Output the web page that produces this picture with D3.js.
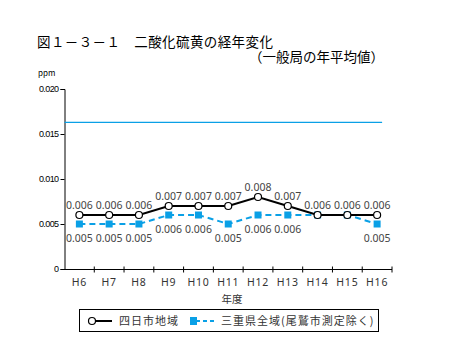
<!DOCTYPE html>
<html><head><meta charset="utf-8">
<script src="https://cdn.jsdelivr.net/npm/d3@7"></script>
<style>body{margin:0;background:#fff;}svg{display:block;font-family:"Noto Sans CJK JP","Noto Sans",sans-serif;}</style>
</head><body><svg id="c" width="465" height="353"></svg>
<script>
const categories = ["H6","H7","H8","H9","H10","H11","H12","H13","H14","H15","H16"];
const yokkaichi = [0.006,0.006,0.006,0.007,0.007,0.007,0.008,0.007,0.006,0.006,0.006];
const mie = [0.005,0.005,0.005,0.006,0.006,0.005,0.006,0.006,0.006,0.006,0.005];
const yTicks = [0,0.005,0.010,0.015,0.020];
const refValue = 0.0163;
const seriesNames = ["四日市地域","三重県全域(尾鷲市測定除く)"];

const svg = d3.select("#c");
const x = d3.scaleBand().domain(categories).range([64.5,392]);
const y = d3.scaleLinear().domain([0,0.020]).range([269,89]);
const cx = d => x(d) + x.bandwidth()/2;
const blue = "#0aa0e6";

svg.append("text").attr("x",37).attr("y",47).attr("font-size",13.5).attr("letter-spacing","0.4").attr("fill","#000")
  .text("図１－３－１　二酸化硫黄の経年変化");
svg.append("text").attr("x",384).attr("y",62).attr("font-size",13.5).attr("text-anchor","end").attr("fill","#000")
  .text("（一般局の年平均値）");
svg.append("text").attr("x",38).attr("y",76).attr("font-size",8).attr("fill","#000").text("ppm");

// y axis
const ya = svg.append("g").attr("transform","translate(64.5,0)")
  .call(d3.axisLeft(y).tickValues(yTicks).tickSize(4).tickFormat(d => d===0 ? "0" : d3.format(".3f")(d)));
ya.select(".domain").attr("stroke","#000").attr("stroke-width",1);
ya.selectAll(".tick text").attr("font-size",9).attr("font-family","Liberation Sans, sans-serif").attr("letter-spacing","-0.6").attr("fill","#000").attr("x",-6);

// x axis
const xa = svg.append("g").attr("transform","translate(0,269.5)")
  .call(d3.axisBottom(x).tickSize(0).tickPadding(9));
xa.select(".domain").attr("stroke","#000").attr("d","M64.5,0H392");
xa.selectAll(".tick text").attr("font-size",10.5).attr("letter-spacing","0.8").attr("fill","#333").attr("font-family","Noto Sans, sans-serif");
xa.selectAll(".bt").data(categories).enter().append("line")
  .attr("x1",d=>x(d)+x.bandwidth()).attr("x2",d=>x(d)+x.bandwidth()).attr("y1",-3).attr("y2",3).attr("stroke","#000");
svg.append("text").attr("x",232).attr("y",303).attr("font-size",10.5).attr("text-anchor","middle").attr("fill","#333").text("年度");

// reference line
svg.append("line").attr("x1",64.5).attr("x2",cx("H16")+5).attr("y1",y(refValue)).attr("y2",y(refValue))
  .attr("stroke",blue).attr("stroke-width",1.3);

// blue series
const line = d3.line().x((d,i)=>cx(categories[i])).y(d=>y(d));
svg.append("path").attr("d",line(mie)).attr("fill","none").attr("stroke",blue).attr("stroke-width",2).attr("stroke-dasharray","6,4");
svg.selectAll(".sq").data(mie).enter().append("rect")
  .attr("x",(d,i)=>cx(categories[i])-3.5).attr("y",d=>y(d)-3.5).attr("width",7).attr("height",7).attr("fill",blue);

// black series
svg.append("path").attr("d",line(yokkaichi)).attr("fill","none").attr("stroke","#000").attr("stroke-width",2);
svg.selectAll(".ci").data(yokkaichi).enter().append("circle")
  .attr("cx",(d,i)=>cx(categories[i])).attr("cy",d=>y(d)).attr("r",3.5).attr("fill","#fff").attr("stroke","#000").attr("stroke-width",1.2);

// labels
svg.selectAll(".lb").data(yokkaichi).enter().append("text")
  .attr("x",(d,i)=>cx(categories[i])).attr("y",d=>y(d)-6).attr("text-anchor","middle")
  .attr("font-size",10.5).attr("fill","#444").attr("font-family","Noto Sans, sans-serif").text(d=>d3.format(".3f")(d));
svg.selectAll(".lm").data(mie.map((v,i)=>({v,i})).filter(o=>o.v!==yokkaichi[o.i])).enter().append("text")
  .attr("x",o=>cx(categories[o.i])).attr("y",o=>y(o.v)+18).attr("text-anchor","middle")
  .attr("font-size",10.5).attr("fill","#444").attr("font-family","Noto Sans, sans-serif").text(o=>d3.format(".3f")(o.v));

// legend
svg.append("rect").attr("x",79.5).attr("y",309.5).attr("width",299).attr("height",22).attr("fill","#fff").attr("stroke","#000").attr("stroke-width",1);
svg.append("line").attr("x1",92).attr("x2",112).attr("y1",321).attr("y2",321).attr("stroke","#000").attr("stroke-width",2);
svg.append("circle").attr("cx",92).attr("cy",321).attr("r",3.5).attr("fill","#fff").attr("stroke","#000").attr("stroke-width",1.2);
svg.append("text").attr("x",119).attr("y",325).attr("font-size",11).attr("letter-spacing","1").attr("fill","#333").text(seriesNames[0]);
svg.append("line").attr("x1",196).attr("x2",214).attr("y1",321).attr("y2",321).attr("stroke",blue).attr("stroke-width",2).attr("stroke-dasharray","4,3");
svg.append("rect").attr("x",190).attr("y",317).attr("width",7).attr("height",8).attr("fill",blue);
svg.append("text").attr("x",221).attr("y",325).attr("font-size",11).attr("letter-spacing","1").attr("fill","#333").text(seriesNames[1]);
</script></body></html>
